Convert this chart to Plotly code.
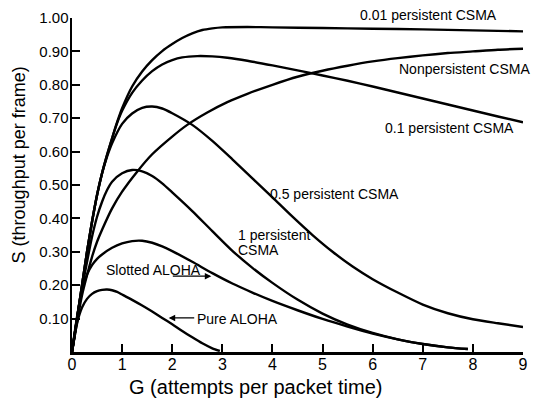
import plotly.graph_objects as go

# ---- data ----
g_pure = [0, 0.1, 0.2, 0.3, 0.4, 0.5, 0.6, 0.7, 0.8, 0.9, 1.0, 1.2, 1.4, 1.6, 1.8, 2.0, 2.2, 2.4, 2.6, 2.8, 2.95]
s_pure = [0, 0.085, 0.133, 0.159, 0.174, 0.182, 0.186, 0.187, 0.185, 0.180, 0.172, 0.156, 0.139, 0.121, 0.102, 0.083, 0.063, 0.044, 0.026, 0.011, 0.003]

g_slot = [0, 0.1, 0.2, 0.3, 0.4, 0.5, 0.6, 0.8, 1.0, 1.2, 1.4, 1.6, 1.8, 2.0, 2.4, 2.8, 3.2, 3.6, 4.0, 4.5, 5.0, 5.5, 6.0, 6.5, 7.0, 7.5, 7.9]
s_slot = [0, 0.105, 0.185, 0.232, 0.26, 0.279, 0.292, 0.312, 0.325, 0.332, 0.333, 0.327, 0.316, 0.302, 0.27, 0.236, 0.205, 0.178, 0.153, 0.125, 0.099, 0.076, 0.055, 0.038, 0.024, 0.014, 0.009]

g_p1 = [0, 0.1, 0.2, 0.3, 0.4, 0.5, 0.6, 0.7, 0.8, 1.0, 1.2, 1.4, 1.6, 1.8, 2.0, 2.4, 2.8, 3.2, 3.6, 4.0, 4.5, 5.0, 5.5, 6.0, 6.5, 7.0, 7.5, 7.9]
s_p1 = [0, 0.1, 0.19, 0.27, 0.345, 0.405, 0.45, 0.485, 0.51, 0.535, 0.545, 0.541, 0.527, 0.505, 0.478, 0.422, 0.362, 0.303, 0.252, 0.207, 0.157, 0.115, 0.082, 0.057, 0.038, 0.024, 0.014, 0.009]

g_p05 = [0, 0.1, 0.2, 0.3, 0.4, 0.5, 0.6, 0.7, 0.8, 1.0, 1.2, 1.4, 1.6, 1.8, 2.0, 2.4, 2.8, 3.2, 3.6, 4.0, 4.4, 4.8, 5.2, 5.6, 6.0, 6.5, 7.0, 7.5, 8.0, 8.5, 9.0]
s_p05 = [0, 0.1, 0.2, 0.3, 0.39, 0.47, 0.535, 0.585, 0.625, 0.683, 0.714, 0.731, 0.735, 0.729, 0.715, 0.68, 0.632, 0.577, 0.52, 0.463, 0.405, 0.35, 0.30, 0.256, 0.218, 0.178, 0.142, 0.116, 0.098, 0.086, 0.075]

g_p01 = [0, 0.1, 0.2, 0.3, 0.4, 0.5, 0.6, 0.7, 0.8, 0.9, 1.0, 1.2, 1.4, 1.6, 1.8, 2.0, 2.2, 2.5, 2.8, 3.1, 3.5, 4.0, 4.5, 5.0, 5.5, 6.0, 6.5, 7.0, 7.5, 8.0, 8.5, 9.0]
s_p01 = [0, 0.1, 0.2, 0.3, 0.39, 0.47, 0.535, 0.59, 0.64, 0.685, 0.722, 0.776, 0.813, 0.841, 0.861, 0.874, 0.882, 0.886, 0.885, 0.881, 0.872, 0.858, 0.843, 0.828, 0.812, 0.795, 0.777, 0.759, 0.741, 0.723, 0.705, 0.688]

g_p001 = [0, 0.1, 0.2, 0.3, 0.4, 0.5, 0.6, 0.7, 0.8, 0.9, 1.0, 1.2, 1.4, 1.6, 1.8, 2.0, 2.2, 2.4, 2.6, 2.8, 3.0, 3.5, 4.0, 5.0, 6.0, 7.0, 8.0, 9.0]
s_p001 = [0, 0.1, 0.2, 0.3, 0.39, 0.47, 0.535, 0.59, 0.64, 0.688, 0.73, 0.795, 0.84, 0.874, 0.901, 0.922, 0.94, 0.954, 0.964, 0.969, 0.972, 0.973, 0.972, 0.97, 0.968, 0.966, 0.963, 0.96]

g_np = [0, 0.1, 0.2, 0.3, 0.4, 0.5, 0.6, 0.8, 1.0, 1.3, 1.6, 2.0, 2.3, 2.7, 3.1, 3.5, 4.0, 4.5, 5.0, 5.5, 6.0, 6.5, 7.0, 7.5, 8.0, 8.5, 9.0]
s_np = [0, 0.09, 0.17, 0.23, 0.285, 0.33, 0.366, 0.43, 0.48, 0.54, 0.592, 0.645, 0.68, 0.717, 0.748, 0.773, 0.80, 0.824, 0.842, 0.857, 0.870, 0.880, 0.888, 0.895, 0.900, 0.905, 0.908]

x_ticks = [0, 1, 2, 3, 4, 5, 6, 7, 8, 9]
y_ticks = [0.1, 0.2, 0.3, 0.4, 0.5, 0.6, 0.7, 0.8, 0.9, 1.0]
y_tick_text = ["0.10", "0.20", "0.30", "0.40", "0.50", "0.60", "0.70", "0.80", "0.90", "1.00"]

series = [
    ("Pure ALOHA", g_pure, s_pure),
    ("Slotted ALOHA", g_slot, s_slot),
    ("1 persistent CSMA", g_p1, s_p1),
    ("0.5 persistent CSMA", g_p05, s_p05),
    ("Nonpersistent CSMA", g_np, s_np),
    ("0.1 persistent CSMA", g_p01, s_p01),
    ("0.01 persistent CSMA", g_p001, s_p001),
]

FONT = "Arial, Liberation Sans, Helvetica, sans-serif"

fig = go.Figure()
for name, g, s in series:
    fig.add_trace(go.Scatter(x=g, y=s, mode="lines", name=name,
                             line=dict(color="black", width=2.4, shape="spline", smoothing=0.7),
                             showlegend=False, hoverinfo="skip"))

ann = []
def label(text, x, y, size=14):
    # yref "paper" equals the data value here because the y range is [0, 1]
    ann.append(dict(text=text, x=x, y=y, xref="x", yref="paper", xanchor="left", yanchor="middle",
                    showarrow=False, borderpad=0, borderwidth=0,
                    font=dict(family=FONT, size=size, color="black")))

label("0.01 persistent CSMA", 5.74, 1.008)
label("Nonpersistent CSMA", 6.52, 0.848)
label("0.1 persistent CSMA", 6.25, 0.672)
label("0.5 persistent CSMA", 3.96, 0.474)
label("1 persistent", 3.31, 0.351)
label("CSMA", 3.31, 0.304)
label("Slotted ALOHA", 0.68, 0.245)
label("Pure ALOHA", 2.50, 0.099)

# arrows
ann.append(dict(text="", x=1.93, y=0.102, xref="x", yref="y", ax=27, ay=0, showarrow=True,
                arrowhead=2, arrowsize=1, arrowwidth=1.3, arrowcolor="black"))
ann.append(dict(text="", x=2.78, y=0.227, xref="x", yref="y", ax=-40, ay=0, showarrow=True,
                arrowhead=2, arrowsize=1, arrowwidth=1.3, arrowcolor="black"))

# axis titles
ann.append(dict(text="S (throughput per frame)", x=-0.118, y=0.561, xref="paper", yref="paper",
                textangle=-90, showarrow=False, xanchor="center", yanchor="middle",
                font=dict(family=FONT, size=18, color="black")))
ann.append(dict(text="G (attempts per packet time)", x=0.406, y=-0.105, xref="paper", yref="paper",
                showarrow=False, xanchor="center", yanchor="middle",
                font=dict(family=FONT, size=20, color="black")))

fig.update_layout(
    width=537, height=400,
    margin=dict(l=72, r=9, t=15, b=48),
    paper_bgcolor="white", plot_bgcolor="white",
    annotations=ann,
    font=dict(family=FONT, color="black"),
)
fig.update_xaxes(range=[0, 9], tickvals=x_ticks, ticks="inside", ticklen=8, tickwidth=2,
                 tickcolor="black", showline=True, linecolor="black", linewidth=2.5,
                 showgrid=False, zeroline=False, ticklabelstandoff=-4,
                 tickfont=dict(family=FONT, size=16, color="black"))
fig.update_yaxes(range=[0, 1.0], tickvals=y_ticks, ticktext=y_tick_text, ticks="inside", ticklen=8,
                 tickwidth=2, tickcolor="black", showline=True, linecolor="black", linewidth=2.5,
                 showgrid=False, zeroline=False, ticklabelstandoff=-2,
                 tickfont=dict(family=FONT, size=15, color="black"))

fig.write_html("out.html", config={"displayModeBar": False, "staticPlot": True},
               post_script="document.body.style.margin='0';document.body.style.overflow='hidden';")
